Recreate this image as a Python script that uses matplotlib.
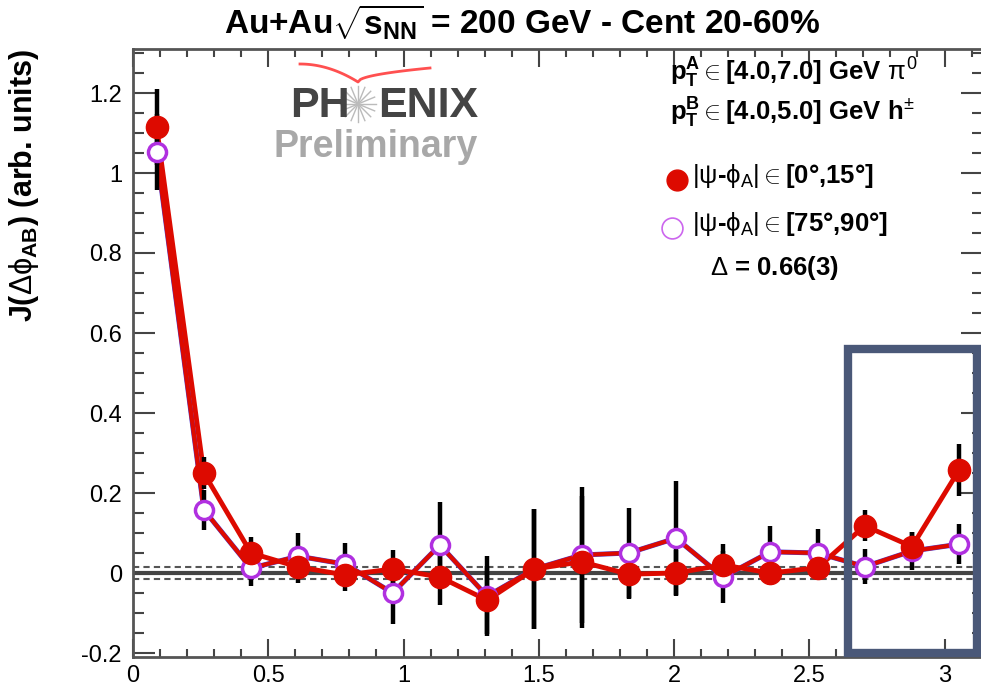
import numpy as np
import matplotlib
matplotlib.use('Agg')
import matplotlib.pyplot as plt
from matplotlib.ticker import MultipleLocator, FuncFormatter
from matplotlib.patches import Rectangle

plt.rcParams['font.family'] = ['Liberation Sans', 'DejaVu Sans']
plt.rcParams['mathtext.fontset'] = 'custom'
plt.rcParams['mathtext.rm'] = 'Liberation Sans'
plt.rcParams['mathtext.it'] = 'Liberation Sans'
plt.rcParams['mathtext.bf'] = 'Liberation Sans:bold'

#==============================================================
# data
#==============================================================
nbins = 18
dphi = (np.arange(nbins) + 0.5) * np.pi / nbins

# in-plane |psi-phi_A| in [0,15]
j_in = [1.115, 0.250, 0.050, 0.015, -0.005, 0.010, -0.010, -0.068, 0.010,
        0.028, -0.003, 0.000, 0.020, 0.000, 0.013, 0.118, 0.066, 0.258]
e_in = [0.095, 0.040, 0.040, 0.040, 0.040, 0.047, 0.070, 0.085, 0.150,
        0.165, 0.062, 0.058, 0.052, 0.030, 0.031, 0.039, 0.037, 0.065]

# out-of-plane |psi-phi_A| in [75,90]
j_out = [1.053, 0.158, 0.012, 0.042, 0.022, -0.050, 0.070, -0.058, 0.010,
         0.045, 0.050, 0.087, -0.010, 0.053, 0.050, 0.016, 0.055, 0.072]
e_out = [0.095, 0.050, 0.045, 0.058, 0.053, 0.078, 0.108, 0.100, 0.150,
         0.170, 0.112, 0.143, 0.066, 0.065, 0.060, 0.044, 0.048, 0.050]

zyam_band = 0.014

#==============================================================
# figure
#==============================================================
W, H = 981, 686
fig = plt.figure(figsize=(W/100, H/100), dpi=100)
ax = fig.add_axes([133/W, 1-657/H, (133+np.pi*270.5)/W - 133/W, (657-49)/H])

red = '#dd0a00'
purp = '#b030e0'

# reference lines
ax.axhline(0, color='#444444', lw=3, zorder=1)
ax.axhline(zyam_band, color='#555555', lw=1.5, ls=(0, (3, 2)), zorder=1)
ax.axhline(-zyam_band, color='#555555', lw=1.5, ls=(0, (3, 2)), zorder=1)

# connecting lines
ax.plot(dphi, j_out, '-', color='#4a3ad0', lw=3.6, zorder=2)
ax.plot(dphi, j_out, '-', color=red, lw=3, zorder=2)
ax.plot(dphi, j_in, '-', color=red, lw=3.5, zorder=2)

# error bars
ax.errorbar(dphi, j_out, yerr=e_out, fmt='none', ecolor='k', elinewidth=3.2, capsize=0, zorder=3)
ax.errorbar(dphi, j_in, yerr=e_in, fmt='none', ecolor='k', elinewidth=3.2, capsize=0, zorder=3)

# markers
ax.plot(dphi, j_out, 'o', ms=13, mfc='white', mec=purp, mew=2.5, zorder=4)
ax.plot(dphi, j_in, 'o', ms=16, mfc=red, mec=red, zorder=5)

ax.set_xlim(0, np.pi)
ax.set_ylim(-0.21, 1.31)

ax.xaxis.set_major_locator(MultipleLocator(0.5))
ax.xaxis.set_minor_locator(MultipleLocator(0.1))
ax.yaxis.set_major_locator(MultipleLocator(0.2))
ax.yaxis.set_minor_locator(MultipleLocator(0.05))
fmt = FuncFormatter(lambda v, p: '%g' % round(v, 2))
ax.xaxis.set_major_formatter(fmt)
ax.yaxis.set_major_formatter(fmt)

ax.tick_params(which='both', direction='in', top=True, right=True, colors='#444444',
               labelcolor='k', labelsize=17)
ax.tick_params(axis='x', which='major', length=13, width=1.5, pad=6)
ax.tick_params(axis='x', which='minor', length=6, width=1.5)
ax.tick_params(axis='y', which='major', length=16, width=1.5, pad=8)
ax.tick_params(axis='y', which='minor', length=8, width=1.5)
for s in ax.spines.values():
    s.set_color('#555555')
    s.set_linewidth(2)

ax.set_ylabel(r'J($\Delta\phi_{\mathbf{AB}}$) (arb. units)', fontsize=22, fontweight='bold')
ax.yaxis.set_label_coords(-0.108, 1.0)
ax.yaxis.label.set_horizontalalignment('right')

fig.text(522/W, 1-22/H, r'Au+Au$\sqrt{\mathbf{s_{NN}}}$ = 200 GeV - Cent 20-60%',
         fontsize=24, fontweight='bold', ha='center', va='center')

# selection text and legend
fs = 18.5
fig.text(670/W, 1-73/H, r'$\mathbf{p_{T}^{A}}\in$[4.0,7.0] GeV $\pi^{0}$',
         fontsize=fs, fontweight='bold', ha='left', va='center')
fig.text(670/W, 1-113/H, r'$\mathbf{p_{T}^{B}}\in$[4.0,5.0] GeV h$^{\pm}$',
         fontsize=fs, fontweight='bold', ha='left', va='center')
fig.text(692/W, 1-176/H, r'$|\psi$-$\phi_{A}|\in$[0°,15°]',
         fontsize=fs, fontweight='bold', ha='left', va='center')
fig.text(692/W, 1-224/H, r'$|\psi$-$\phi_{A}|\in$[75°,90°]',
         fontsize=fs, fontweight='bold', ha='left', va='center')
fig.text(710/W, 1-268/H, r'$\Delta$ = 0.66(3)',
         fontsize=fs, fontweight='bold', ha='left', va='center')
fig.add_artist(plt.Line2D([677/W], [1-180/H], marker='o', ms=15, mfc=red, mec=red))
fig.add_artist(plt.Line2D([672/W], [1-228/H], marker='o', ms=15, mfc='white', mec='#cc66ee', mew=1.2))

# PHENIX logo
fig.text(290/W, 1-106/H, 'PH', fontsize=31, fontweight='bold', color='#444444', ha='left', va='center')
fig.text(378/W, 1-106/H, 'ENIX', fontsize=31, fontweight='bold', color='#444444', ha='left', va='center')
fig.text(376/W, 1-147/H, 'Preliminary', fontsize=27, fontweight='bold', color='#a8a8a8', ha='center', va='center')
for a in np.linspace(0, np.pi, 8, endpoint=False):
    dx, dy = 18*np.cos(a), 18*np.sin(a)
    fig.add_artist(plt.Line2D([(358-dx)/W, (358+dx)/W], [1-(104-dy)/H, 1-(104+dy)/H],
                              color='#bbbbbb', lw=1))
t = np.linspace(0, 1, 30)
sx = np.concatenate([300 + 58*t, 358 + 72*t])
sy = np.concatenate([64 + 18*t**2, 82 - 14*np.sqrt(t)])
fig.add_artist(plt.Line2D(sx/W, 1-sy/H, color='#ff5050', lw=2))

# highlight box
ax.add_patch(Rectangle((2.644, -0.20), 3.12-2.644, 0.56+0.20, fill=False,
                       ec='#4a5878', lw=6, clip_on=False, zorder=6))

fig.savefig('out.png', dpi=100)
